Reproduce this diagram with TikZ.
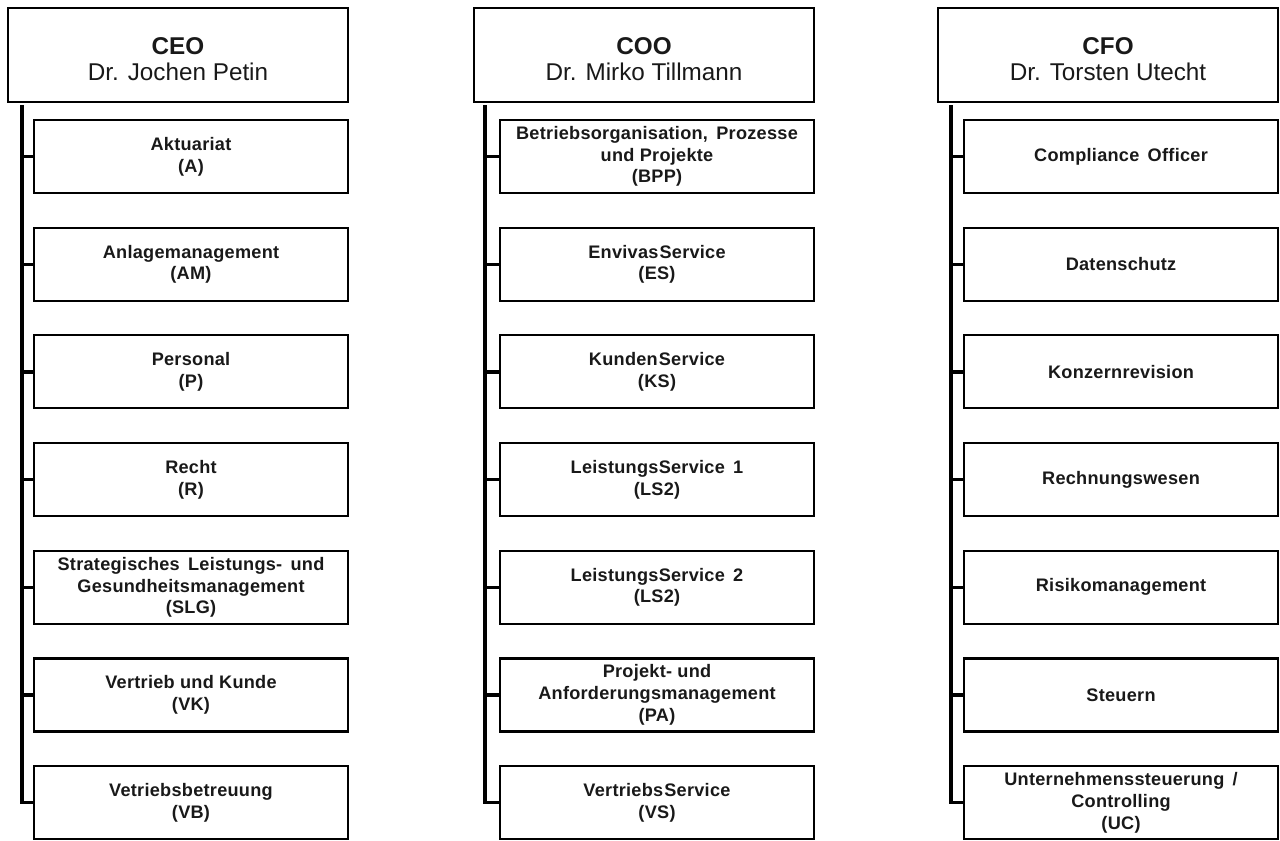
\documentclass[tikz,border=0pt]{standalone}
\usepackage{fontspec}
\setmainfont{Liberation Sans}
\newfontfamily\childfont[LetterSpace=1.5]{Liberation Sans}
\newfontfamily\headfont{Liberation Sans}
\newcommand{\headstrut}{\rule{0pt}{19pt}}
\begin{document}
\begin{tikzpicture}[x=0.75pt,y=-0.75pt,
  headbox/.style={draw=black, line width=1.6pt, minimum width=255pt, minimum height=70.5pt,
    inner sep=0pt, align=center, font=\headfont\fontsize{18.2pt}{20pt}\selectfont, text=black!90},
  unitbox/.style={draw=black, line width=1.6pt, minimum width=235.5pt, minimum height=54.75pt,
    inner sep=0pt, align=center, font=\childfont\bfseries\fontsize{13.6pt}{16.3pt}\selectfont, text=black!90},
  trunk/.style={draw=black, line width=2.4pt},
  stub/.style={draw=black, line width=2.4pt}]
\useasboundingbox (0,0) rectangle (1280,840);

% heads
\node[headbox] (ceo) at (178,55) {\headstrut\textbf{CEO}\\Dr. Jochen Petin};
\node[headbox] (coo) at (644,55) {\headstrut\textbf{COO}\\Dr. Mirko Tillmann};
\node[headbox] (cfo) at (1108,55) {\headstrut\textbf{CFO}\\Dr. Torsten Utecht};

% CEO units
\node[unitbox] (a1) at (191,156.5) {Aktuariat\\(A)};
\node[unitbox] (a2) at (191,264.2) {Anlagemanagement\\(AM)};
\node[unitbox] (a3) at (191,371.9) {Personal\\(P)};
\node[unitbox] (a4) at (191,479.6) {Recht\\(R)};
\node[unitbox] (a5) at (191,587.3) {Strategisches\, Leistungs-\, und\\Gesundheitsmanagement\\(SLG)};
\node[unitbox] (a6) at (191,695) {Vertrieb und Kunde\\(VK)};
\node[unitbox] (a7) at (191,802.7) {Vetriebsbetreuung\\(VB)};

% COO units
\node[unitbox] (b1) at (657,156.5) {Betriebsorganisation,\, Prozesse\\und Projekte\\(BPP)};
\node[unitbox] (b2) at (657,264.2) {Envivas\kern0.8pt Service\\(ES)};
\node[unitbox] (b3) at (657,371.9) {Kunden\kern0.8pt Service\\(KS)};
\node[unitbox] (b4) at (657,479.6) {LeistungsService\, 1\\(LS2)};
\node[unitbox] (b5) at (657,587.3) {LeistungsService\, 2\\(LS2)};
\node[unitbox] (b6) at (657,695) {Projekt- und\\Anforderungsmanagement\\(PA)};
\node[unitbox] (b7) at (657,802.7) {Vertriebs\kern0.8pt Service\\(VS)};

% CFO units
\node[unitbox] (c1) at (1121,156.5) {Compliance\, Officer};
\node[unitbox] (c2) at (1121,264.2) {Datenschutz};
\node[unitbox] (c3) at (1121,371.9) {Konzernrevision};
\node[unitbox] (c4) at (1121,479.6) {Rechnungswesen};
\node[unitbox] (c5) at (1121,587.3) {Risikomanagement};
\node[unitbox] (c6) at (1121,695) {Steuern};
\node[unitbox] (c7) at (1121,802.7) {Unternehmenssteuerung\, /\\Controlling\\(UC)};

% trunks
\coordinate (tA) at (22,105);
\coordinate (tB) at (485,105);
\coordinate (tC) at (951,105);

\draw[trunk] (tA) |- (a7.west);
\draw[trunk] (tB) |- (b7.west);
\draw[trunk] (tC) |- (c7.west);

\foreach \i in {1,...,6}{
  \draw[stub] (tA |- a\i.west) -- (a\i.west);
  \draw[stub] (tB |- b\i.west) -- (b\i.west);
  \draw[stub] (tC |- c\i.west) -- (c\i.west);
}
\end{tikzpicture}
\end{document}
